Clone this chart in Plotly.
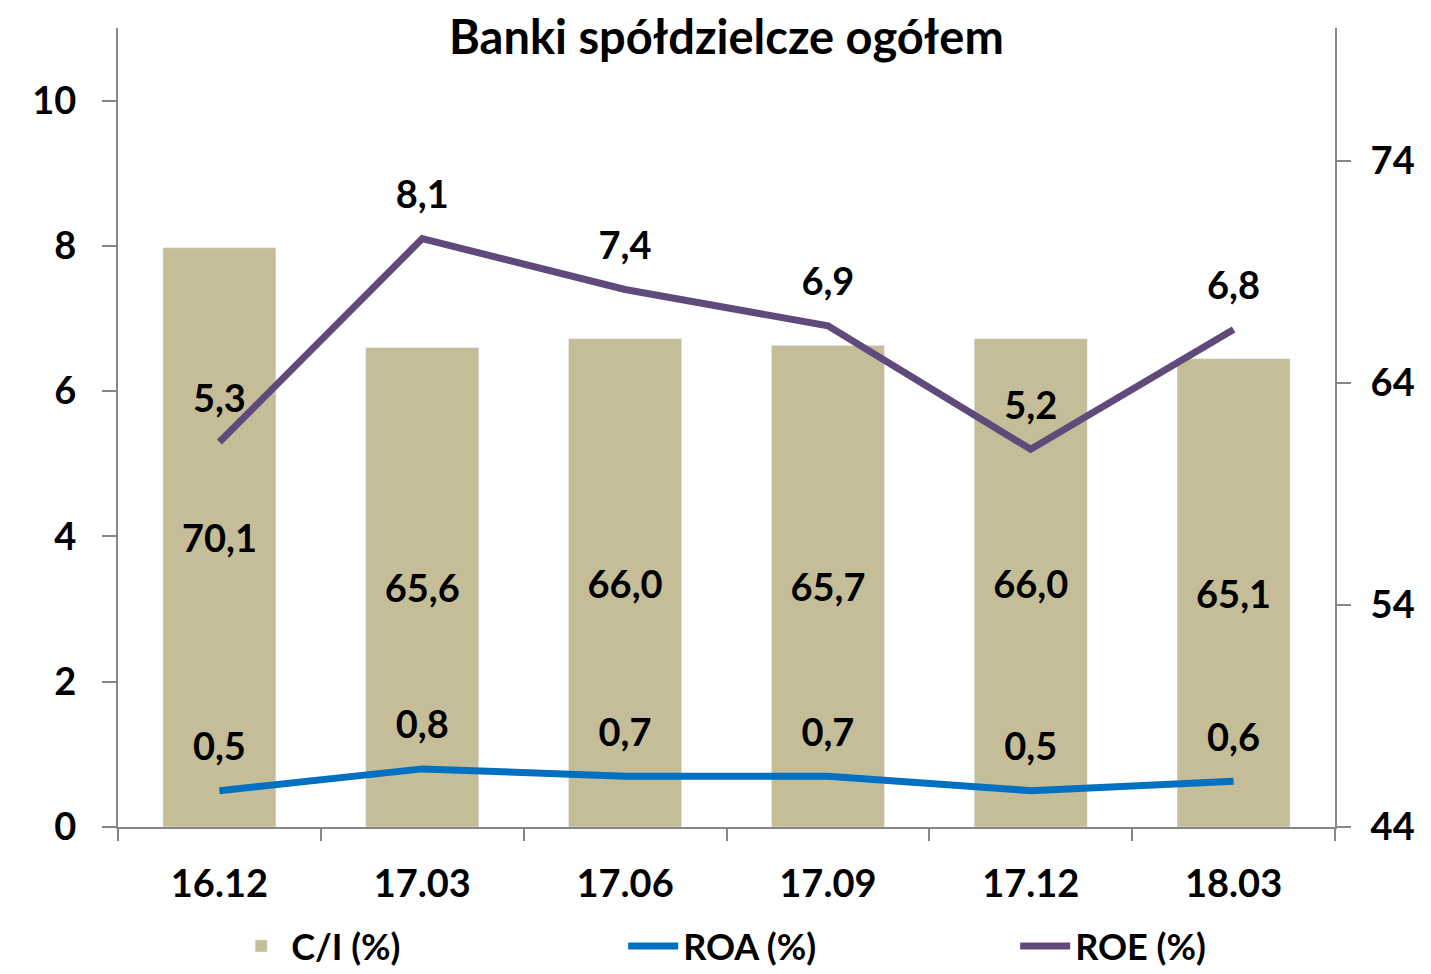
import plotly.graph_objects as go

categories = ["16.12", "17.03", "17.06", "17.09", "17.12", "18.03"]
ci_values = [70.1, 65.6, 66.0, 65.7, 66.0, 65.1]
roa_values = [0.5, 0.8, 0.7, 0.7, 0.5, 0.63]
roe_values = [5.3, 8.1, 7.4, 6.9, 5.2, 6.85]
roa_labels = ["0,5", "0,8", "0,7", "0,7", "0,5", "0,6"]
roe_labels = ["5,3", "8,1", "7,4", "6,9", "5,2", "6,8"]
CI_BASE = 44

FONT = "Lato"
BAR_C = "#C4BD97"
ROA_C = "#0070C0"
ROE_C = "#604A7B"
AX_C = "#868686"

def fmt(v):
    return f"{v:.1f}".replace(".", ",")

labfont = dict(family=FONT, size=38, color="black", weight="bold")

fig = go.Figure()
fig.add_trace(go.Bar(
    x=categories, y=[v - CI_BASE for v in ci_values], base=CI_BASE, name="C/I (%)",
    marker_color=BAR_C,
    text=[fmt(v) for v in ci_values], textposition="inside",
    insidetextanchor="middle", textangle=0, textfont=labfont,
    width=0.557, yaxis="y", hoverinfo="skip",
))
fig.add_trace(go.Scatter(
    x=categories, y=roa_values, name="ROA (%)", mode="lines",
    line=dict(color=ROA_C, width=7), yaxis="y2",
))
fig.add_trace(go.Scatter(
    x=categories, y=roe_values, name="ROE (%)", mode="lines",
    line=dict(color=ROE_C, width=7), yaxis="y2",
))
for vals, labs in ((roa_values, roa_labels), (roe_values, roe_labels)):
    fig.add_trace(go.Scatter(
        x=categories, y=vals, mode="markers+text", text=labs,
        textposition="top center", textfont=labfont,
        marker=dict(size=32, opacity=0), yaxis="y2", showlegend=False,
        cliponaxis=False, hoverinfo="skip",
    ))

tickfont = dict(family=FONT, size=38, color="black", weight="bold")
fig.update_layout(
    width=1431, height=974,
    margin=dict(l=110, r=104, t=20, b=155, autoexpand=False),
    paper_bgcolor="white", plot_bgcolor="white",
    showlegend=True,
    legend=dict(orientation="h", x=0.093, y=-0.149, xanchor="left", yanchor="middle",
                font=dict(family=FONT, size=36, color="black", weight="bold"),
                entrywidth=327, entrywidthmode="pixels", itemwidth=50),
    xaxis=dict(type="category", range=[-0.5, 5.5], showline=True, linecolor=AX_C, linewidth=2,
               ticks="outside", tickson="boundaries", ticklen=12, tickcolor=AX_C, tickwidth=2,
               tickfont=tickfont, showgrid=False, ticklabelstandoff=22),
    yaxis=dict(side="right", range=[44, 80], tick0=44, dtick=10, showline=True, linecolor=AX_C,
               linewidth=2, ticks="outside", ticklen=14, tickcolor=AX_C, tickwidth=2,
               tickfont=tickfont, showgrid=False, zeroline=False, ticklabelstandoff=12),
    yaxis2=dict(side="left", overlaying="y", range=[0, 11], dtick=2, showline=True, linecolor=AX_C,
                linewidth=2, ticks="outside", ticklen=14, tickcolor=AX_C, tickwidth=2,
                tickfont=tickfont, showgrid=False, zeroline=False, ticklabelstandoff=18),
    annotations=[dict(x=0.5, y=1.0, xref="paper", yref="paper", yanchor="middle", yshift=-8,
                      text="Banki spółdzielcze ogółem", showarrow=False,
                      font=dict(family=FONT, size=47, color="black", weight="bold"))],
)

fig.write_html("out.html")
